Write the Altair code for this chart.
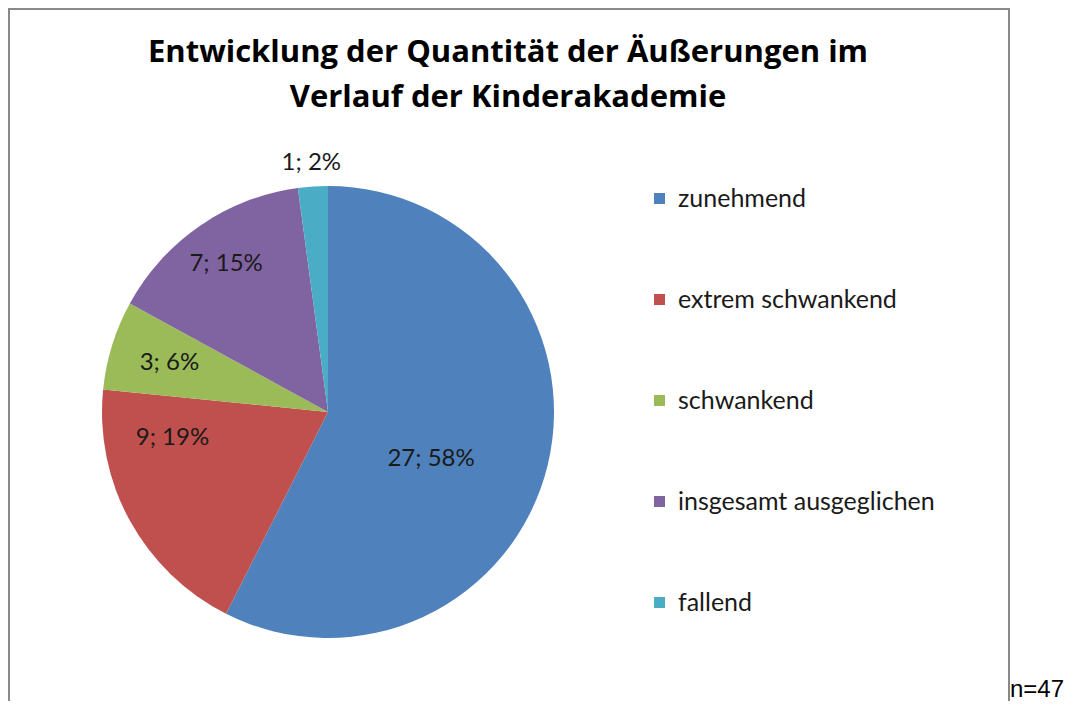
import altair as alt
import pandas as pd

categories = ["zunehmend", "extrem schwankend", "schwankend", "insgesamt ausgeglichen", "fallend"]
counts = [27, 9, 3, 7, 1]
percents = [58, 19, 6, 15, 2]
colors = ["#4F81BD", "#C0504D", "#9BBB59", "#8064A2", "#4BACC6"]
title_lines = ["Entwicklung der Quantität der Äußerungen im", "Verlauf der Kinderakademie"]
note = "n=47"

df = pd.DataFrame({
    "cat": categories,
    "count": counts,
    "idx": list(range(len(categories))),
    "label": [f"{c}; {p}%" for c, p in zip(counts, percents)],
})

CX, CY, R = 320, 404, 226
W, H = 1060, 693
BORDER = "#898989"
TXT = "#1a1a1a"

base = alt.Chart(df).encode(
    theta=alt.Theta("count:Q", stack=True),
    color=alt.Color(
        "cat:N",
        scale=alt.Scale(domain=categories, range=colors),
        sort=categories,
        legend=alt.Legend(
            title=None,
            orient="none",
            legendX=639,
            legendY=178,
            symbolType="square",
            symbolSize=121,
            symbolStrokeWidth=0,
            symbolOpacity=1,
            labelFont="Lato",
            labelFontSize=25,
            labelColor=TXT,
            labelOffset=6,
            rowPadding=75,
            labelLimit=400,
        ),
    ),
    order=alt.Order("idx:Q"),
)

pie = base.mark_arc(outerRadius=R).encode(x=alt.value(CX), y=alt.value(CY))


def label_layer(cat, radius, dx=0, dy=0):
    return base.mark_text(
        radius=radius, dx=dx, dy=dy, font="Lato", fontSize=24,
        baseline="middle", align="center",
    ).encode(
        x=alt.value(CX),
        y=alt.value(CY),
        color=alt.value(TXT),
        detail=alt.Detail("cat:N"),
        text=alt.condition(alt.datum.cat == cat, alt.Text("label:N"), alt.value("")),
    )


labels = [
    label_layer("zunehmend", 106, 0, 22),
    label_layer("extrem schwankend", 150, -24, -46),
    label_layer("schwankend", 166),
    label_layer("insgesamt ausgeglichen", 180),
    label_layer("fallend", 250),
]

one = alt.Data(values=[{"a": 1}])
left = alt.Chart(one).mark_rule(color=BORDER, strokeWidth=2).encode(
    x=alt.value(1), y=alt.value(0), y2=alt.value(H))
top = alt.Chart(one).mark_rule(color=BORDER, strokeWidth=2).encode(
    x=alt.value(0), x2=alt.value(1002), y=alt.value(1))
right = alt.Chart(one).mark_rule(color=BORDER, strokeWidth=2).encode(
    x=alt.value(1001), y=alt.value(0), y2=alt.value(H))
note_text = alt.Chart(one).mark_text(
    font="Liberation Sans", fontSize=24, color="#000000", align="left", baseline="alphabetic"
).encode(x=alt.value(1002), y=alt.value(689), text=alt.value(note))

chart = alt.layer(pie, *labels, left, top, right, note_text).properties(
    width=W,
    height=H,
    autosize=alt.AutoSizeParams(type="none"),
    padding=0,
    title=alt.TitleParams(
        text=title_lines,
        font="Open Sans",
        fontSize=31,
        fontWeight="bold",
        color="#000000",
        anchor="middle",
        frame="group",
        baseline="alphabetic",
        lineHeight=45,
        offset=0,
        dx=-30,
        dy=131,
    ),
).configure_view(strokeWidth=0)

chart.save("out.html", embed_options={"renderer": "svg", "actions": False})
